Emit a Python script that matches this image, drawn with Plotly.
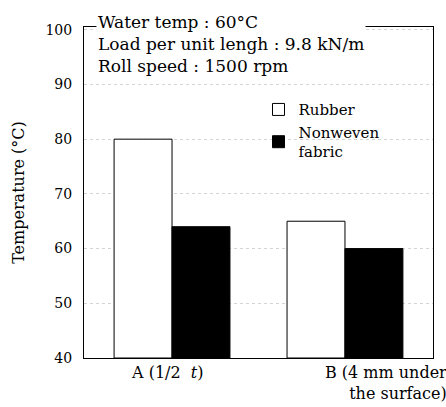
import plotly.graph_objects as go

categories = ["A", "B"]
rubber = [80, 65]
nonwoven = [64, 60]
series_names = ["Rubber", "Nonweven<br>fabric"]
y_ticks = [40, 50, 60, 70, 80, 90, 100]

font = "DejaVu Serif"

fig = go.Figure()
fig.add_trace(go.Bar(x=categories, y=[v - 40 for v in rubber], base=40, name=series_names[0],
                     marker=dict(color="white", line=dict(color="black", width=1))))
fig.add_trace(go.Bar(x=categories, y=[v - 40 for v in nonwoven], base=40, name=series_names[1],
                     marker=dict(color="black", line=dict(color="black", width=1))))

fig.update_layout(
    width=446, height=407,
    margin=dict(l=84, r=13, t=27, b=49),
    paper_bgcolor="white", plot_bgcolor="white",
    barmode="group", bargap=0.33, bargroupgap=0,
    font=dict(family=font, size=15, color="black"),
    showlegend=True,
    legend=dict(x=0.50, y=0.80, xanchor="left", yanchor="top",
                bgcolor="rgba(0,0,0,0)", font=dict(family=font, size=15), tracegroupgap=0,
                itemwidth=30),
    xaxis=dict(range=[-0.509, 1.509], showticklabels=False, ticks="",
               showline=True, linecolor="black", linewidth=1, mirror=True,
               showgrid=False),
    yaxis=dict(range=[40, 100.5], tickvals=y_ticks, ticks="",
               showline=True, linecolor="black", linewidth=1, mirror=True,
               showgrid=True, gridcolor="#d4d4d4", griddash="dot", gridwidth=1,
               tickfont=dict(family=font, size=14), ticklabelstandoff=8,
               title=dict(text="Temperature (°C)", font=dict(family=font, size=16), standoff=16)),
)

fig.add_annotation(xref="paper", yref="paper", x=0.035, y=1.05, xanchor="left", yanchor="top",
                   align="left", showarrow=False, bgcolor="white",
                   text="Water temp : 60°C<br>Load per unit lengh : 9.8 kN/m<br>Roll speed : 1500 rpm",
                   font=dict(family=font, size=17))

fig.add_annotation(xref="x", yref="paper", x=0, y=-0.01, yanchor="top", xanchor="center",
                   xshift=-5, showarrow=False, text="A (1/2  <i>t</i>)", font=dict(family=font, size=16))
fig.add_annotation(xref="paper", yref="paper", x=1.045, y=-0.01, yanchor="top", xanchor="right",
                   align="right", showarrow=False, text="B (4 mm under<br>the surface)",
                   font=dict(family=font, size=16))

fig.write_html("out.html")
